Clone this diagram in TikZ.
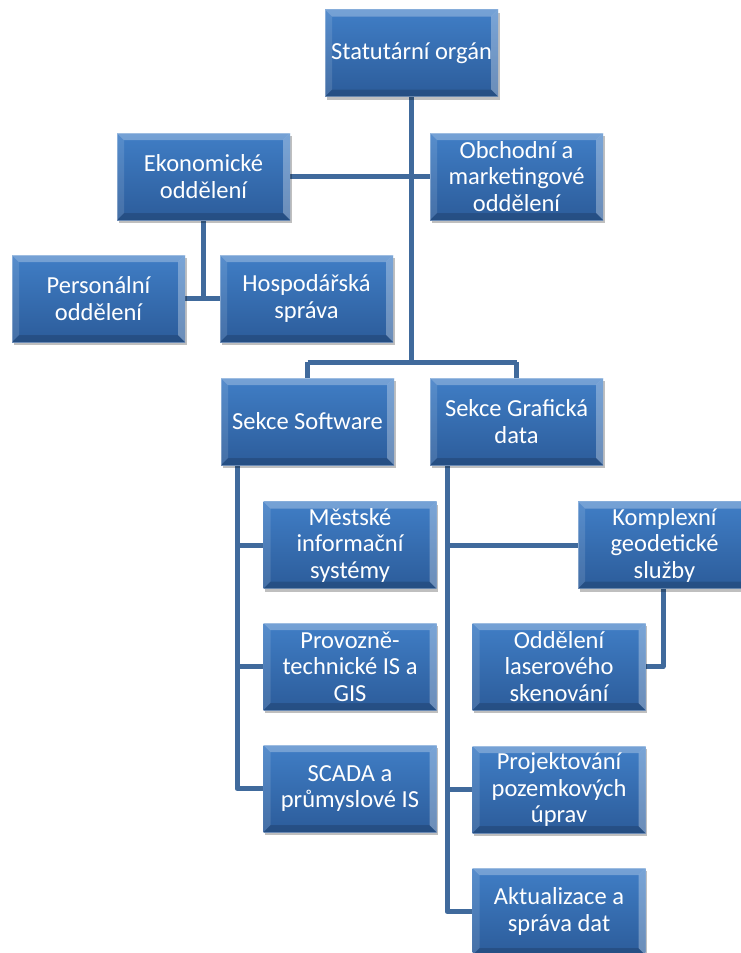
\documentclass[tikz,border=0pt]{standalone}
\usepackage{fontspec}
\setmainfont{Carlito}
\usetikzlibrary{shadows,backgrounds,calc}
\definecolor{boxtop}{RGB}{64,126,198}
\definecolor{boxbot}{RGB}{44,92,154}
\definecolor{linecol}{RGB}{64,106,156}
\tikzset{
  orgbox/.style={rectangle, minimum width=173pt, minimum height=87pt, inner sep=0pt,
    align=center, text=white, font=\fontsize{24.5}{26.5}\selectfont,
    top color=boxtop, bottom color=boxbot,
    general shadow={shadow xshift=1.5pt, shadow yshift=-3pt, opacity=0.25, fill=black},
    path picture={
      \coordinate (PNW) at (path picture bounding box.north west);
      \coordinate (PNE) at (path picture bounding box.north east);
      \coordinate (PSW) at (path picture bounding box.south west);
      \coordinate (PSE) at (path picture bounding box.south east);
      \fill[white, opacity=0.28] (PNW) -- (PNE) -- ($(PNE)+(-7pt,-7pt)$) -- ($(PNW)+(7pt,-7pt)$) -- cycle;
      \fill[white, opacity=0.12] (PNW) -- (PSW) -- ($(PSW)+(7pt,7pt)$) -- ($(PNW)+(7pt,-7pt)$) -- cycle;
      \fill[white, opacity=0.30] (PNE) -- (PSE) -- ($(PSE)+(-7pt,7pt)$) -- ($(PNE)+(-7pt,-7pt)$) -- cycle;
      \fill[black, opacity=0.15] (PSW) -- (PSE) -- ($(PSE)+(-7pt,7pt)$) -- ($(PSW)+(7pt,7pt)$) -- cycle;
      \draw[white, opacity=0.3, line width=0.8pt] (PNW) rectangle (PSE);
    }},
  conn/.style={draw=linecol, line width=5pt, line join=round}
}
\begin{document}
\begin{tikzpicture}[x=1pt, y=-1pt]
\useasboundingbox (0,0) rectangle (741,953);

\node[orgbox] (stat)  at (411.5,53)    {Statutární orgán};
\node[orgbox] (ekon)  at (203.5,176.5) {Ekonomické\\oddělení};
\node[orgbox] (obch)  at (516.5,176.5) {Obchodní a\\marketingové\\oddělení};
\node[orgbox] (pers)  at (98.5,298.5)  {Personální\\oddělení};
\node[orgbox] (hosp)  at (306.5,298.5) {Hospodářská\\správa};
\node[orgbox] (ssw)   at (307.5,421.5) {Sekce Software};
\node[orgbox] (sgd)   at (516.5,421.5) {Sekce Grafická\\data};
\node[orgbox] (mest)  at (350,545)     {Městské\\informační\\systémy};
\node[orgbox] (prov)  at (350,666.5)   {Provozně-\\technické IS a\\GIS};
\node[orgbox] (scada) at (350,788.5)   {SCADA a\\průmyslové IS};
\node[orgbox] (kompl) at (664.5,545)   {Komplexní\\geodetické\\služby};
\node[orgbox] (odd)   at (559,666.5)   {Oddělení\\laserového\\skenování};
\node[orgbox] (proj)  at (559,789.5)   {Projektování\\pozemkových\\úprav};
\node[orgbox] (akt)   at (559,911.5)   {Aktualizace a\\správa dat};

\coordinate (busy) at (0,362);
\coordinate (swx) at (237,0);
\coordinate (gdx) at (447,0);
\coordinate (kx) at (663,0);

\begin{scope}[on background layer]
  \draw[conn] (stat.south) -- (stat.south |- busy);
  \draw[conn] (ssw.north |- busy) -- (sgd.north |- busy);
  \draw[conn] (ssw.north |- busy) -- (ssw.north);
  \draw[conn] (sgd.north |- busy) -- (sgd.north);
  \draw[conn] (ekon.east) -- (obch.west);
  \draw[conn] (ekon.south) -- (ekon.south |- hosp.west);
  \draw[conn] (pers.east) -- (hosp.west);
  \draw[conn] (swx |- ssw.south) -- (swx |- scada.west) -- (scada.west);
  \draw[conn] (swx |- mest.west) -- (mest.west);
  \draw[conn] (swx |- prov.west) -- (prov.west);
  \draw[conn] (gdx |- sgd.south) -- (gdx |- akt.west) -- (akt.west);
  \draw[conn] (gdx |- kompl.west) -- (kompl.west);
  \draw[conn] (gdx |- proj.west) -- (proj.west);
  \draw[conn] (kx |- kompl.south) -- (kx |- odd.east) -- (odd.east);
\end{scope}
\end{tikzpicture}
\end{document}
